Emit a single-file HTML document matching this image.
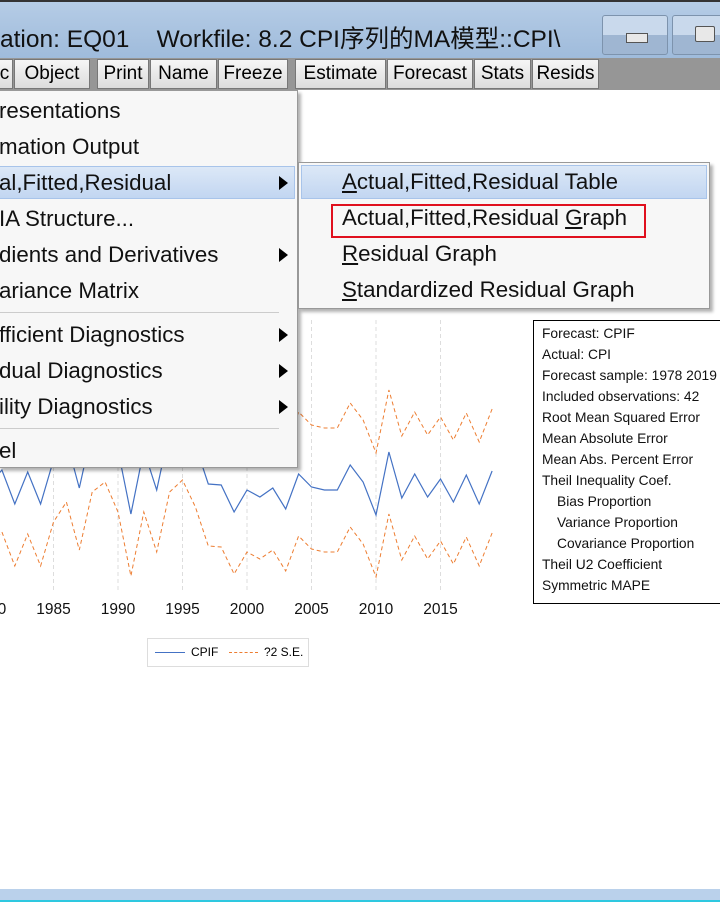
<!DOCTYPE html>
<html><head><meta charset="utf-8"><style>
body{margin:0;width:720px;height:902px;overflow:hidden;background:#fff;position:relative;font-family:"Liberation Sans","Noto Sans CJK SC",sans-serif}
.abs{position:absolute}
.tb{position:absolute;top:59px;height:30px;background:linear-gradient(#f6f6f6,#dcdcdc);border:1px solid #777;box-sizing:border-box;font-size:19px;line-height:28px;text-align:center;color:#000}
.mi{position:absolute;left:0;font-size:22.3px;height:36px;line-height:36px;color:#111;white-space:nowrap}
.arr{position:absolute;left:280px;width:0;height:0;border-top:7px solid transparent;border-bottom:7px solid transparent;border-left:9px solid #000}
.si{position:absolute;left:43px;font-size:22.3px;line-height:36px;color:#111;white-space:nowrap}
.tl{position:absolute;left:8px;font-size:13.8px;color:#111;white-space:nowrap}
</style></head><body>
<div class="abs" style="left:0;top:0;width:720px;height:58px;background:linear-gradient(#b5cce6,#9fbbdb);border-top:2px solid #333;box-sizing:border-box"></div>
<div class="abs" style="left:0;top:20px;font-size:24.5px;color:#111;white-space:nowrap">ation: EQ01&nbsp;&nbsp;&nbsp; Workfile: 8.2 CPI序列的MA模型::CPI\</div>
<div class="abs" style="left:602px;top:15px;width:66px;height:40px;border:1px solid #7d93ad;border-radius:3px;box-sizing:border-box;background:linear-gradient(#c9d9ec 50%,#9fb6d2 50%)"><div class="abs" style="left:23px;top:17px;width:20px;height:8px;background:#e8e8e8;border:1px solid #555"></div></div>
<div class="abs" style="left:672px;top:15px;width:60px;height:40px;border:1px solid #7d93ad;border-radius:3px;box-sizing:border-box;background:linear-gradient(#c9d9ec 50%,#9fb6d2 50%)"><div class="abs" style="left:22px;top:10px;width:18px;height:14px;background:#e8e8e8;border:1px solid #555;border-radius:2px"></div></div>
<div class="abs" style="left:0;top:58px;width:720px;height:32px;background:#969696"></div>
<div class="tb" style="left:-4px;width:17px">c</div>
<div class="tb" style="left:14px;width:76px">Object</div>
<div class="tb" style="left:97px;width:52px">Print</div>
<div class="tb" style="left:150px;width:67px">Name</div>
<div class="tb" style="left:218px;width:70px">Freeze</div>
<div class="tb" style="left:295px;width:91px">Estimate</div>
<div class="tb" style="left:387px;width:86px">Forecast</div>
<div class="tb" style="left:474px;width:57px">Stats</div>
<div class="tb" style="left:532px;width:67px">Resids</div>

<svg class="abs" style="left:0;top:0" width="720" height="902" id="chart"></svg>

<div class="abs" style="left:147px;top:638px;width:162px;height:29px;border:1px solid #ddd;box-sizing:border-box">
<div class="abs" style="left:7px;top:13px;width:30px;border-top:1px solid #4472c4"></div>
<div class="abs" style="left:43px;top:6px;font-size:12px">CPIF</div>
<div class="abs" style="left:81px;top:13px;width:29px;border-top:1px dashed #ed7d31"></div>
<div class="abs" style="left:116px;top:6px;font-size:12px">?2 S.E.</div>
</div>

<div class="abs" style="left:533px;top:320px;width:200px;height:284px;border:1px solid #000;box-sizing:border-box;background:#fff">
<div class="tl" style="top:5px">Forecast: CPIF</div>
<div class="tl" style="top:26px">Actual: CPI</div>
<div class="tl" style="top:47px">Forecast sample: 1978 2019</div>
<div class="tl" style="top:68px">Included observations: 42</div>
<div class="tl" style="top:89px">Root Mean Squared Error</div>
<div class="tl" style="top:110px">Mean Absolute Error</div>
<div class="tl" style="top:131px">Mean Abs. Percent Error</div>
<div class="tl" style="top:152px">Theil Inequality Coef.</div>
<div class="tl" style="top:173px;left:23px">Bias Proportion</div>
<div class="tl" style="top:194px;left:23px">Variance Proportion</div>
<div class="tl" style="top:215px;left:23px">Covariance Proportion</div>
<div class="tl" style="top:236px">Theil U2 Coefficient</div>
<div class="tl" style="top:257px">Symmetric MAPE</div>
</div>

<div class="abs" style="left:-2px;top:90px;width:300px;height:378px;background:#f7f7f7;border:1px solid #999;box-sizing:border-box;box-shadow:3px 3px 3px rgba(0,0,0,0.3)">
<div class="abs" style="left:0;top:75px;width:296px;height:33px;background:linear-gradient(#dce8f7,#c2d6f1);border:1px solid #a8c4ea;box-sizing:border-box"></div>
<div class="mi" style="top:2px">resentations</div>
<div class="mi" style="top:38px">mation Output</div>
<div class="mi" style="top:74px">al,Fitted,Residual</div><div class="arr" style="top:85px"></div>
<div class="mi" style="top:110px">IA Structure...</div>
<div class="mi" style="top:146px">dients and Derivatives</div><div class="arr" style="top:157px"></div>
<div class="mi" style="top:182px">ariance Matrix</div>
<div class="abs" style="left:0;top:221px;width:280px;border-top:1px solid #ccc"></div>
<div class="mi" style="top:226px">fficient Diagnostics</div><div class="arr" style="top:237px"></div>
<div class="mi" style="top:262px">dual Diagnostics</div><div class="arr" style="top:273px"></div>
<div class="mi" style="top:298px">ility Diagnostics</div><div class="arr" style="top:309px"></div>
<div class="abs" style="left:0;top:337px;width:280px;border-top:1px solid #ccc"></div>
<div class="mi" style="top:342px">el</div>
</div>

<div class="abs" style="left:298px;top:162px;width:412px;height:147px;background:#f7f7f7;border:1px solid #999;box-sizing:border-box;box-shadow:3px 3px 3px rgba(0,0,0,0.3)">
<div class="abs" style="left:2px;top:2px;width:406px;height:34px;background:linear-gradient(#dce8f7,#c2d6f1);border:1px solid #a8c4ea;box-sizing:border-box"></div>
<div class="si" style="top:1px"><u>A</u>ctual,Fitted,Residual Table</div>
<div class="si" style="top:37px">Actual,Fitted,Residual <u>G</u>raph</div>
<div class="abs" style="left:32px;top:41px;width:315px;height:34px;border:2px solid #e0101e;box-sizing:border-box"></div>
<div class="si" style="top:73px"><u>R</u>esidual Graph</div>
<div class="si" style="top:109px"><u>S</u>tandardized Residual Graph</div>
</div>

<div class="abs" style="left:0;top:889px;width:720px;height:11px;background:#bad1eb"></div>
<div class="abs" style="left:0;top:900px;width:720px;height:2px;background:#2ec8e0"></div>

<script>
const years=[1978,1979,1980,1981,1982,1983,1984,1985,1986,1987,1988,1989,1990,1991,1992,1993,1994,1995,1996,1997,1998,1999,2000,2001,2002,2003,2004,2005,2006,2007,2008,2009,2010,2011,2012,2013,2014,2015,2016,2017,2018,2019];
const cpif=[12.0,10.5,11.5,13.0,9.6,12.8,9.6,14.0,16.0,11.2,17.0,18.0,15.0,8.6,15.0,11.0,17.0,18.2,15.5,11.6,11.5,8.8,11.0,10.3,11.2,9.1,12.6,11.3,11.0,11.0,13.5,11.8,8.5,14.8,10.2,12.6,10.3,12.1,9.8,12.5,9.6,12.9];
const se=[6.2,6.2,6.2,6.2,6.2,6.2,6.2,6.2,6.2,6.2,6.2,6.2,6.2,6.2,6.2,6.2,6.2,6.2,6.2,6.2,6.2,6.2,6.2,6.2,6.2,6.2,6.2,6.2,6.2,6.2,6.2,6.2,6.2,6.2,6.2,6.2,6.2,6.2,6.2,6.2,6.2,6.2];
const tickYears=[1980,1985,1990,1995,2000,2005,2010,2015];
const tickLabels=["1980","1985","1990","1995","2000","2005","2010","2015"];
const svg=document.getElementById('chart');
const NS='http://www.w3.org/2000/svg';
function xs(y){return 53.5+(y-1985)*12.9;}
function ys(v){return 600-v*10;}
function mk(t,a){const e=document.createElementNS(NS,t);for(const k in a)e.setAttribute(k,a[k]);svg.appendChild(e);return e;}
tickYears.forEach((t,i)=>{
 const g=mk('line',{x1:xs(t),x2:xs(t),y1:320,y2:592,stroke:'#ddd','stroke-dasharray':'4,3'});
 
 
 const tx=mk('text',{x:xs(t),y:614,'text-anchor':'middle','font-size':'15.5','font-family':'Liberation Sans, sans-serif',fill:'#111'});
 tx.textContent=tickLabels[i];
 
 
});
function path(vals){return vals.map((v,i)=>(i?'L':'M')+xs(years[i]).toFixed(1)+','+ys(v).toFixed(1)).join('');}
const up=mk('path',{d:path(cpif.map((v,i)=>v+se[i])),fill:'none',stroke:'#ed7d31','stroke-width':1,'stroke-dasharray':'4,3'});


const lo=mk('path',{d:path(cpif.map((v,i)=>v-se[i])),fill:'none',stroke:'#ed7d31','stroke-width':1,'stroke-dasharray':'4,3'});


const ln=mk('path',{d:path(cpif),fill:'none',stroke:'#4472c4','stroke-width':1.2});


</script>
</body></html>
